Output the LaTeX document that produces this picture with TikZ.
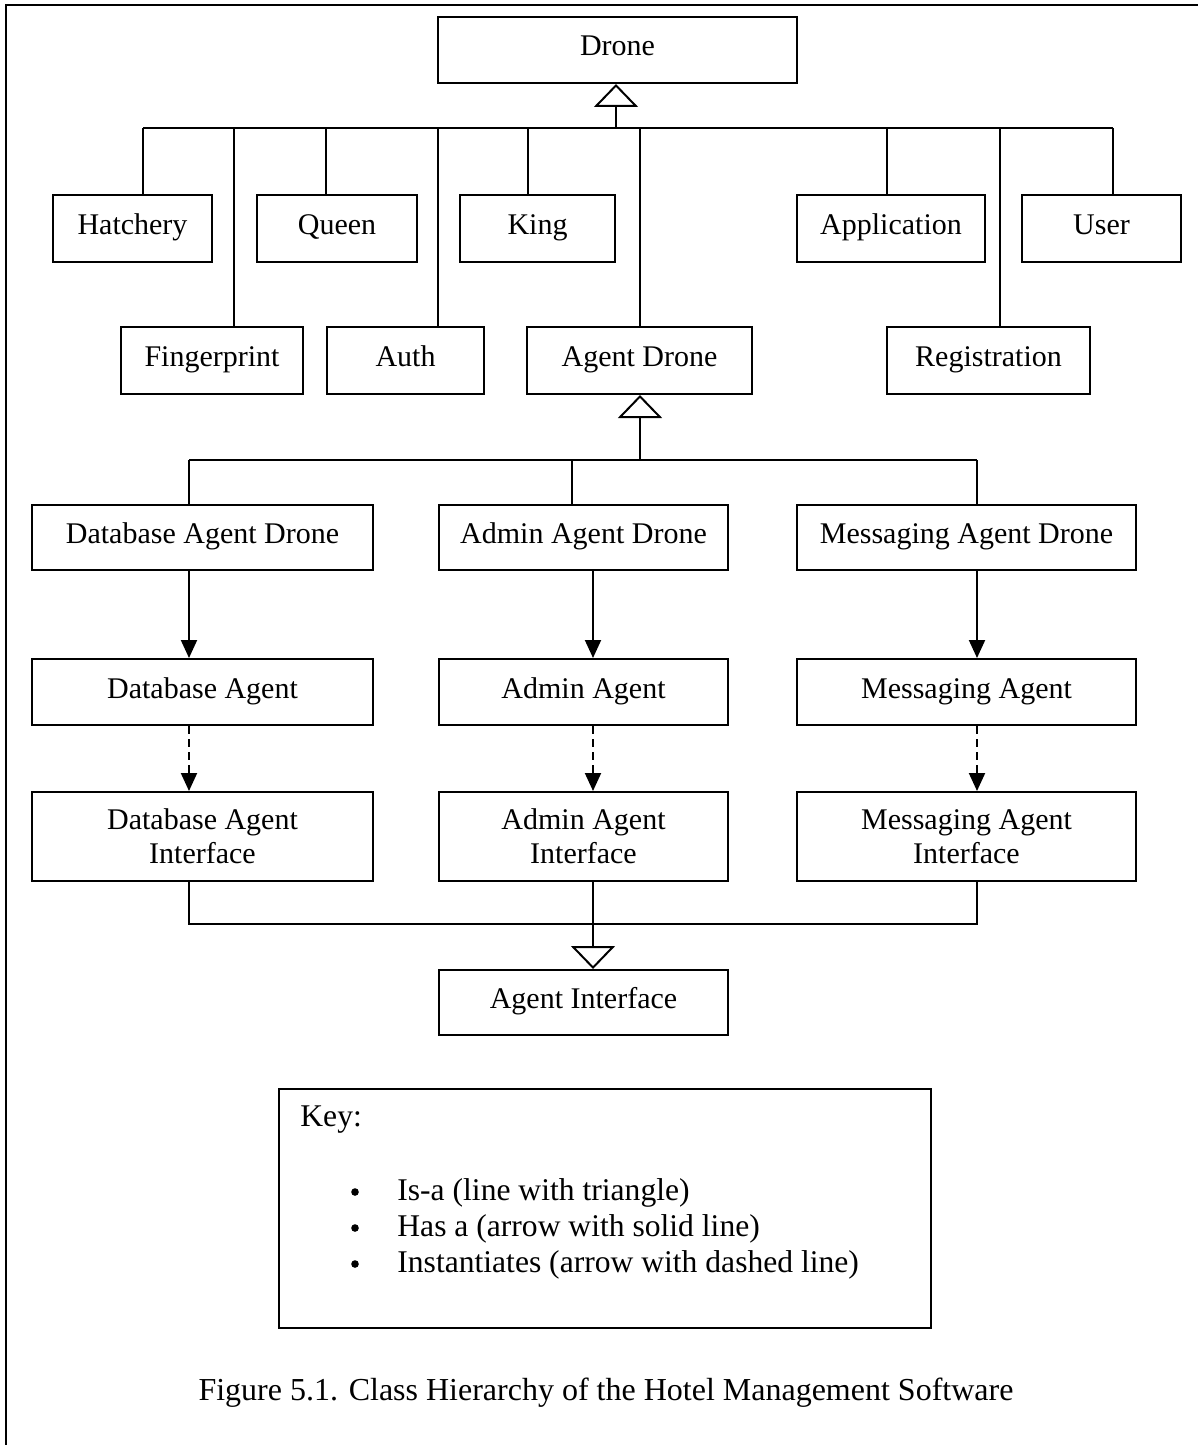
\documentclass[tikz,border=0pt]{standalone}
\usepackage{fontspec}
\setmainfont{Liberation Serif}
\usetikzlibrary{arrows.meta}
\newcommand\mybox[6]{\node[box, minimum width={0.5pt*(#4-#2)}, minimum height={0.5pt*(#5-#3)}] (#1) at ({(#2+#4)/2},{(#3+#5)/2}) {#6};}
\newcommand\mytwobox[6]{\node[box2, minimum width={0.5pt*(#4-#2)}, minimum height={0.5pt*(#5-#3)}] (#1) at ({(#2+#4)/2},{(#3+#5)/2}) {#6};}
\begin{document}
\begin{tikzpicture}[x=0.5pt,y=-0.5pt,
  box2/.style={draw, line width=1pt, inner sep=0pt, align=center, font=\fontsize{15}{17}\selectfont},
  box/.style={box2, text height=10pt, text depth=4pt},
  conn/.style={line width=1pt},
  isa/.style={conn, -{Triangle[open, width=22pt, length=11.5pt, line width=1pt]}},
  hasa/.style={conn, -{Triangle[width=8pt, length=9pt]}},
  inst/.style={hasa, dash pattern=on 4pt off 2.5pt},
  keytext/.style={font=\fontsize{15.8}{18}\selectfont, inner sep=0pt},
  bullet/.style={circle, fill, inner sep=0pt, minimum size=3.8pt},
]
\useasboundingbox (0,0) rectangle (1198,1445);
\draw[line width=1pt] (6,1445) -- (6,5) -- (1198,5);

\mybox{drone}{438}{17}{797}{83}{Drone}
\mybox{hatch}{53}{195}{212}{262}{Hatchery}
\mybox{queen}{257}{195}{417}{262}{Queen}
\mybox{king}{460}{195}{615}{262}{King}
\mybox{app}{797}{195}{985}{262}{Application}
\mybox{user}{1022}{195}{1181}{262}{User}
\mybox{finger}{121}{327}{303}{394}{Fingerprint}
\mybox{auth}{327}{327}{484}{394}{Auth}
\mybox{agent}{527}{327}{752}{394}{Agent Drone}
\mybox{reg}{887}{327}{1090}{394}{Registration}
\mybox{dbd}{32}{505}{373}{570}{Database Agent Drone}
\mybox{add}{439}{505}{728}{570}{Admin Agent Drone}
\mybox{msd}{797}{505}{1136}{570}{Messaging Agent Drone}
\mybox{dba}{32}{659}{373}{725}{Database Agent}
\mybox{ada}{439}{659}{728}{725}{Admin Agent}
\mybox{msa}{797}{659}{1136}{725}{Messaging Agent}
\mytwobox{dbi}{32}{792}{373}{881}{Database Agent\\Interface}
\mytwobox{adi}{439}{792}{728}{881}{Admin Agent\\Interface}
\mytwobox{msi}{797}{792}{1136}{881}{Messaging Agent\\Interface}
\mybox{ai}{439}{970}{728}{1035}{Agent Interface}

% first level is-a
\coordinate (b0) at (616,128);
\foreach \n/\x in {hatch/143, finger/234, queen/326, auth/438, king/528, agent/640, app/887, reg/1000, user/1113} {
  \coordinate (b\n) at (\x,128);
  \draw[conn] (b\n) -- (\n.north -| b\n);
}
\draw[conn] (bhatch) -- (buser);
\draw[isa] (b0) -- (drone.south -| b0);

% second level is-a
\coordinate (c0) at (640,460);
\coordinate (cdb) at (189,460);
\coordinate (cad) at (572,460);
\coordinate (cms) at (977,460);
\draw[conn] (cdb) -- (dbd.north -| cdb);
\draw[conn] (cad) -- (add.north -| cad);
\draw[conn] (cms) -- (msd.north -| cms);
\draw[conn] (cdb) -- (cms);
\draw[isa] (c0) -- (agent.south -| c0);

% has-a and instantiates
\coordinate (xdb) at (189,0);
\coordinate (xad) at (593,0);
\coordinate (xms) at (977,0);
\draw[hasa] (dbd.south -| xdb) -- (dba.north -| xdb);
\draw[hasa] (add.south -| xad) -- (ada.north -| xad);
\draw[hasa] (msd.south -| xms) -- (msa.north -| xms);
\draw[inst] (dba.south -| xdb) -- (dbi.north -| xdb);
\draw[inst] (ada.south -| xad) -- (adi.north -| xad);
\draw[inst] (msa.south -| xms) -- (msi.north -| xms);

% interfaces is-a Agent Interface
\coordinate (j1) at (189,924);
\coordinate (j3) at (977,924);
\draw[conn] (dbi.south -| xdb) -- (j1) -- (j3) -- (msi.south -| xms);
\draw[isa] (adi.south -| xad) -- (ai.north -| xad);

% key
\node[draw, line width=1pt, minimum width={0.5pt*652}, minimum height={0.5pt*239}, inner sep=0pt] (key) at (605,1208.5) {};
\node[keytext, anchor=west] (keyt) at (300,1120) {Key:};
\node[bullet] (k1) at (355,1192) {};
\node[bullet] (k2) at (355,1228) {};
\node[bullet] (k3) at (355,1264) {};
\node[keytext, anchor=west] (t1) at (397,1193) {Is-a (line with triangle)};
\node[keytext, anchor=west] (t2) at (397,1229) {Has a (arrow with solid line)};
\node[keytext, anchor=west] (t3) at (397,1265) {Instantiates (arrow with dashed line)};

% caption
\node[font=\fontsize{16}{19}\selectfont, inner sep=0pt] (cap) at (606,1393) {Figure 5.1. Class Hierarchy of the Hotel Management Software};
\end{tikzpicture}
\end{document}
